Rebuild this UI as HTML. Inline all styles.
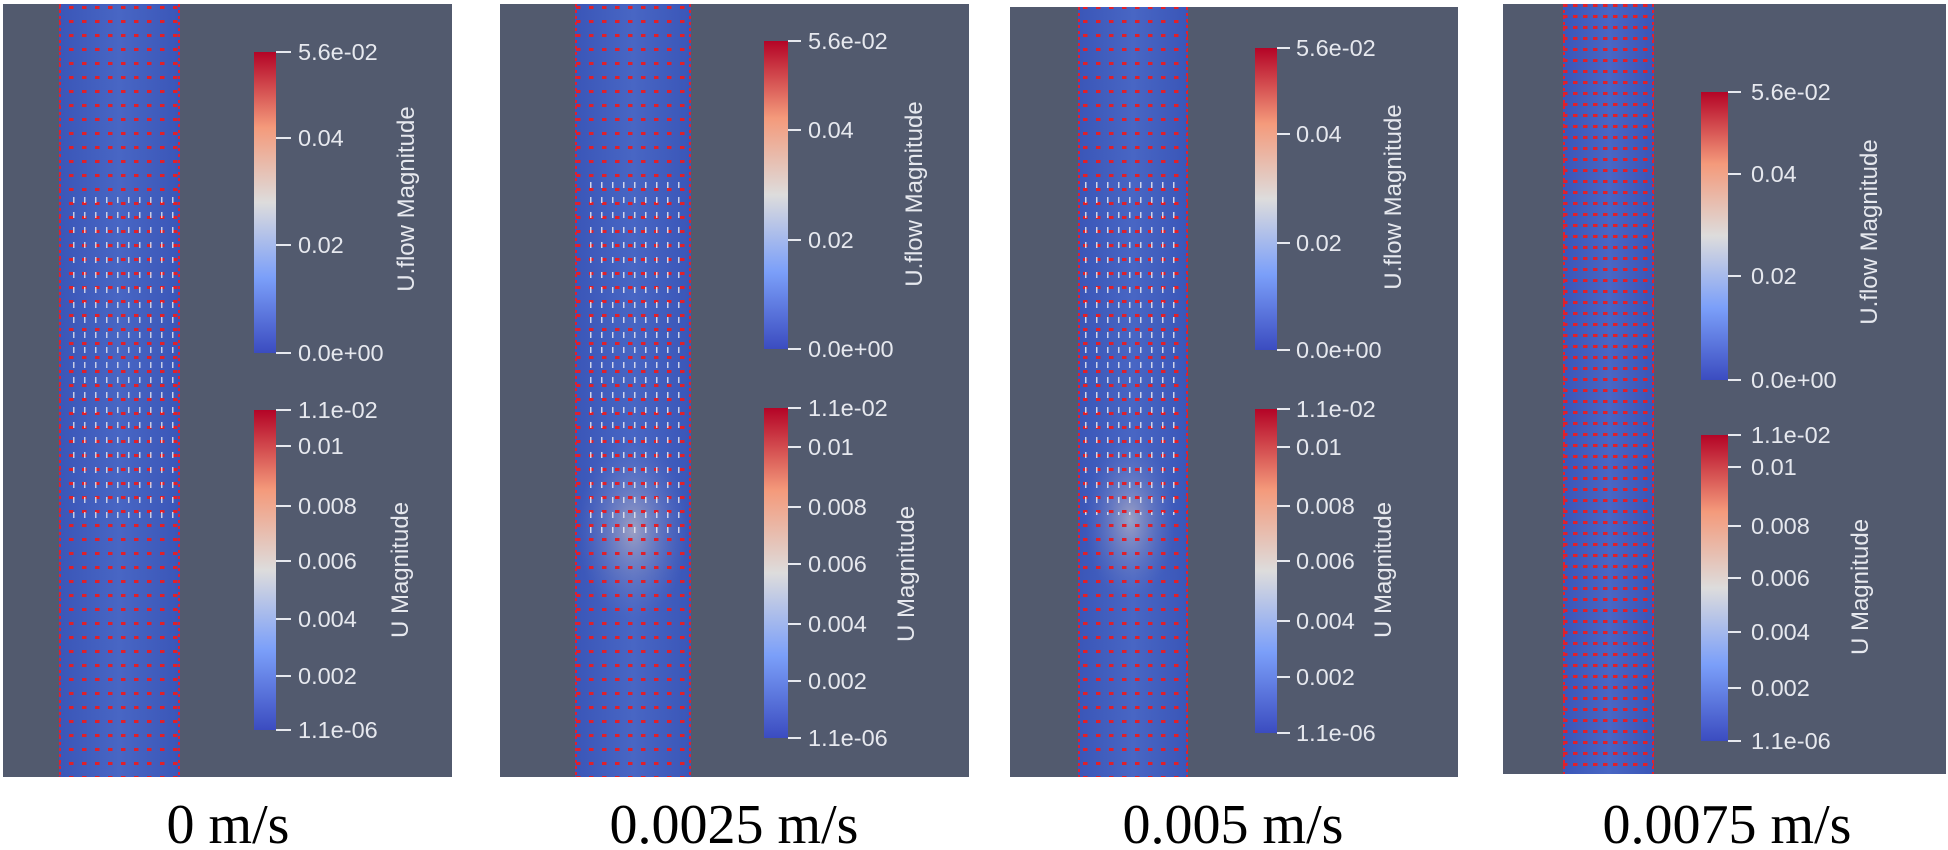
<!DOCTYPE html>
<html><head><meta charset="utf-8"><style>
html,body{margin:0;padding:0;background:#fff;}
svg{display:block}
.t{font-family:"Liberation Sans",sans-serif;font-size:23.5px;fill:#e6e8ee;}
.ti{font-family:"Liberation Sans",sans-serif;font-size:24px;fill:#e6e8ee;}
.lb{font-family:"Liberation Serif",serif;font-size:56px;fill:#000;}
</style></head><body>
<svg width="1948" height="850" viewBox="0 0 1948 850" xmlns="http://www.w3.org/2000/svg">
<defs>
<linearGradient id="cw" x1="0" y1="1" x2="0" y2="0">
<stop offset="0" stop-color="#3b4cc0"/><stop offset="0.25" stop-color="#7b9ff9"/>
<stop offset="0.5" stop-color="#dddcdc"/><stop offset="0.75" stop-color="#f49a7b"/>
<stop offset="1" stop-color="#b40426"/></linearGradient>
<linearGradient id="cyl" x1="0" y1="0" x2="1" y2="0">
<stop offset="0" stop-color="#3a56b8"/><stop offset="0.5" stop-color="#4866c4"/><stop offset="1" stop-color="#3a56b8"/></linearGradient>
<radialGradient id="glow" cx="0.5" cy="0.5" r="0.5">
<stop offset="0" stop-color="#b8b3c4" stop-opacity="0.75"/><stop offset="1" stop-color="#6a7cc4" stop-opacity="0"/></radialGradient>
<pattern id="dots" width="13" height="14" patternUnits="userSpaceOnUse">
<rect x="4" y="6" width="4.5" height="3" fill="#e0202a"/></pattern>
<pattern id="dots4" width="10" height="11" patternUnits="userSpaceOnUse">
<rect x="3" y="4" width="4.5" height="3" fill="#e0202a"/></pattern>
<pattern id="wd" width="11" height="15" patternUnits="userSpaceOnUse">
<rect x="7" y="2" width="1.5" height="6" fill="#e8e8f0"/></pattern>
</defs>

<!-- Panel 1 -->
<rect x="3" y="4" width="449" height="773" fill="#525a6e"/>
<rect x="59" y="4" width="121" height="773" fill="url(#cyl)"/>
<rect x="59" y="4" width="121" height="773" fill="url(#dots)"/>
<rect x="65" y="195" width="109" height="330" fill="url(#wd)" opacity="0.8"/>
<line x1="60" y1="4" x2="60" y2="777" stroke="#e02030" stroke-width="2" stroke-dasharray="3 3"/>
<line x1="179" y1="4" x2="179" y2="777" stroke="#e02030" stroke-width="2" stroke-dasharray="3 3"/>
<rect x="254" y="52" width="22" height="301" fill="url(#cw)"/>
<rect x="254" y="410" width="22" height="320" fill="url(#cw)"/>
<g stroke="#e6e8ee" stroke-width="2">
<line x1="276" y1="52" x2="291" y2="52"/><line x1="276" y1="138" x2="291" y2="138"/><line x1="276" y1="245" x2="291" y2="245"/><line x1="276" y1="353" x2="291" y2="353"/>
<line x1="276" y1="410" x2="291" y2="410"/><line x1="276" y1="446" x2="291" y2="446"/><line x1="276" y1="506" x2="291" y2="506"/><line x1="276" y1="561" x2="291" y2="561"/><line x1="276" y1="619" x2="291" y2="619"/><line x1="276" y1="676" x2="291" y2="676"/><line x1="276" y1="730" x2="291" y2="730"/></g>
<g class="t">
<text x="298" y="60">5.6e-02</text><text x="298" y="146">0.04</text><text x="298" y="253">0.02</text><text x="298" y="361">0.0e+00</text>
<text x="298" y="418">1.1e-02</text><text x="298" y="454">0.01</text><text x="298" y="514">0.008</text><text x="298" y="569">0.006</text><text x="298" y="627">0.004</text><text x="298" y="684">0.002</text><text x="298" y="738">1.1e-06</text></g>
<text class="ti" transform="translate(414,199) rotate(-90)" text-anchor="middle">U.flow Magnitude</text>
<text class="ti" transform="translate(408,570) rotate(-90)" text-anchor="middle">U Magnitude</text>

<!-- Panel 2 -->
<rect x="500" y="4" width="469" height="773" fill="#525a6e"/>
<rect x="575" y="4" width="116" height="773" fill="url(#cyl)"/>
<ellipse cx="633" cy="530" rx="55" ry="90" fill="url(#glow)"/>
<rect x="575" y="4" width="116" height="773" fill="url(#dots)"/>
<rect x="582" y="175" width="102" height="360" fill="url(#wd)" opacity="0.85"/>
<line x1="576" y1="4" x2="576" y2="777" stroke="#e02030" stroke-width="2" stroke-dasharray="3 3"/>
<line x1="690" y1="4" x2="690" y2="777" stroke="#e02030" stroke-width="2" stroke-dasharray="3 3"/>
<rect x="764" y="41" width="24" height="308" fill="url(#cw)"/>
<rect x="764" y="408" width="24" height="330" fill="url(#cw)"/>
<g stroke="#e6e8ee" stroke-width="2">
<line x1="788" y1="41" x2="801" y2="41"/><line x1="788" y1="130" x2="801" y2="130"/><line x1="788" y1="240" x2="801" y2="240"/><line x1="788" y1="349" x2="801" y2="349"/>
<line x1="788" y1="408" x2="801" y2="408"/><line x1="788" y1="447" x2="801" y2="447"/><line x1="788" y1="507" x2="801" y2="507"/><line x1="788" y1="564" x2="801" y2="564"/><line x1="788" y1="624" x2="801" y2="624"/><line x1="788" y1="681" x2="801" y2="681"/><line x1="788" y1="738" x2="801" y2="738"/></g>
<g class="t">
<text x="808" y="49">5.6e-02</text><text x="808" y="138">0.04</text><text x="808" y="248">0.02</text><text x="808" y="357">0.0e+00</text>
<text x="808" y="416">1.1e-02</text><text x="808" y="455">0.01</text><text x="808" y="515">0.008</text><text x="808" y="572">0.006</text><text x="808" y="632">0.004</text><text x="808" y="689">0.002</text><text x="808" y="746">1.1e-06</text></g>
<text class="ti" transform="translate(922,194) rotate(-90)" text-anchor="middle">U.flow Magnitude</text>
<text class="ti" transform="translate(914,574) rotate(-90)" text-anchor="middle">U Magnitude</text>

<!-- Panel 3 -->
<rect x="1010" y="7" width="448" height="770" fill="#525a6e"/>
<rect x="1078" y="7" width="110" height="770" fill="url(#cyl)"/>
<ellipse cx="1130" cy="520" rx="45" ry="80" fill="url(#glow)"/>
<rect x="1078" y="7" width="110" height="770" fill="url(#dots)"/>
<rect x="1085" y="175" width="96" height="340" fill="url(#wd)" opacity="0.85"/>
<line x1="1079" y1="7" x2="1079" y2="777" stroke="#e02030" stroke-width="2" stroke-dasharray="3 3"/>
<line x1="1187" y1="7" x2="1187" y2="777" stroke="#e02030" stroke-width="2" stroke-dasharray="3 3"/>
<rect x="1255" y="48" width="22" height="302" fill="url(#cw)"/>
<rect x="1255" y="409" width="22" height="324" fill="url(#cw)"/>
<g stroke="#e6e8ee" stroke-width="2">
<line x1="1277" y1="48" x2="1290" y2="48"/><line x1="1277" y1="134" x2="1290" y2="134"/><line x1="1277" y1="243" x2="1290" y2="243"/><line x1="1277" y1="350" x2="1290" y2="350"/>
<line x1="1277" y1="409" x2="1290" y2="409"/><line x1="1277" y1="447" x2="1290" y2="447"/><line x1="1277" y1="506" x2="1290" y2="506"/><line x1="1277" y1="561" x2="1290" y2="561"/><line x1="1277" y1="621" x2="1290" y2="621"/><line x1="1277" y1="677" x2="1290" y2="677"/><line x1="1277" y1="733" x2="1290" y2="733"/></g>
<g class="t">
<text x="1296" y="56">5.6e-02</text><text x="1296" y="142">0.04</text><text x="1296" y="251">0.02</text><text x="1296" y="358">0.0e+00</text>
<text x="1296" y="417">1.1e-02</text><text x="1296" y="455">0.01</text><text x="1296" y="514">0.008</text><text x="1296" y="569">0.006</text><text x="1296" y="629">0.004</text><text x="1296" y="685">0.002</text><text x="1296" y="741">1.1e-06</text></g>
<text class="ti" transform="translate(1401,197) rotate(-90)" text-anchor="middle">U.flow Magnitude</text>
<text class="ti" transform="translate(1391,570) rotate(-90)" text-anchor="middle">U Magnitude</text>

<!-- Panel 4 -->
<rect x="1503" y="4" width="443" height="770" fill="#525a6e"/>
<rect x="1563" y="4" width="91" height="770" fill="url(#cyl)"/>
<rect x="1563" y="4" width="91" height="770" fill="url(#dots4)"/>
<line x1="1564" y1="4" x2="1564" y2="774" stroke="#e02030" stroke-width="2" stroke-dasharray="3 3"/>
<line x1="1653" y1="4" x2="1653" y2="774" stroke="#e02030" stroke-width="2" stroke-dasharray="3 3"/>
<rect x="1701" y="92" width="27" height="288" fill="url(#cw)"/>
<rect x="1701" y="435" width="27" height="306" fill="url(#cw)"/>
<g stroke="#e6e8ee" stroke-width="2">
<line x1="1728" y1="92" x2="1741" y2="92"/><line x1="1728" y1="174" x2="1741" y2="174"/><line x1="1728" y1="276" x2="1741" y2="276"/><line x1="1728" y1="380" x2="1741" y2="380"/>
<line x1="1728" y1="435" x2="1741" y2="435"/><line x1="1728" y1="467" x2="1741" y2="467"/><line x1="1728" y1="526" x2="1741" y2="526"/><line x1="1728" y1="578" x2="1741" y2="578"/><line x1="1728" y1="632" x2="1741" y2="632"/><line x1="1728" y1="688" x2="1741" y2="688"/><line x1="1728" y1="741" x2="1741" y2="741"/></g>
<g class="t">
<text x="1751" y="100">5.6e-02</text><text x="1751" y="182">0.04</text><text x="1751" y="284">0.02</text><text x="1751" y="388">0.0e+00</text>
<text x="1751" y="443">1.1e-02</text><text x="1751" y="475">0.01</text><text x="1751" y="534">0.008</text><text x="1751" y="586">0.006</text><text x="1751" y="640">0.004</text><text x="1751" y="696">0.002</text><text x="1751" y="749">1.1e-06</text></g>
<text class="ti" transform="translate(1877,232) rotate(-90)" text-anchor="middle">U.flow Magnitude</text>
<text class="ti" transform="translate(1868,587) rotate(-90)" text-anchor="middle">U Magnitude</text>

<!-- labels -->
<g class="lb" text-anchor="middle">
<text x="228" y="843">0 m/s</text><text x="734" y="843">0.0025 m/s</text><text x="1233" y="843">0.005 m/s</text><text x="1727" y="843">0.0075 m/s</text></g>
</svg>
</body></html>
